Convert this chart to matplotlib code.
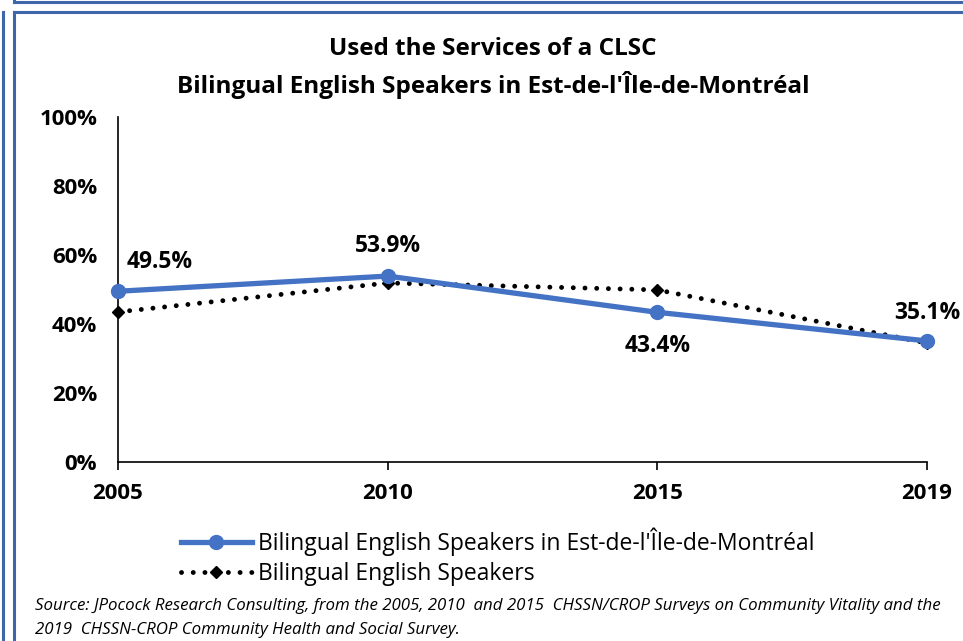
import matplotlib.pyplot as plt
from matplotlib.lines import Line2D

plt.rcParams['font.family'] = ['Liberation Sans Narrow', 'Open Sans', 'DejaVu Sans']

years = ['2005', '2010', '2015', '2019']
est_montreal = [0.495, 0.539, 0.434, 0.351]
bilingual_all = [0.435, 0.519, 0.499, 0.345]
value_labels = ['49.5%', '53.9%', '43.4%', '35.1%']
yticks = [0, 0.2, 0.4, 0.6, 0.8, 1.0]
ytick_labels = ['0%', '20%', '40%', '60%', '80%', '100%']

blue = '#4472C4'

fig = plt.figure(figsize=(9.63, 6.41), dpi=100)
ax = fig.add_axes([0.1225, 0.2793, 0.840, 0.538])

x = list(range(len(years)))
ax.plot(x, bilingual_all, color='black', lw=3.5, linestyle=(0, (0.01, 2.4)),
        dash_capstyle='round', marker='D', markersize=6, markerfacecolor='black',
        markeredgecolor='black', label='Bilingual English Speakers', zorder=2)
ax.plot(x, est_montreal, color=blue, lw=3.8, marker='o', markersize=10,
        label="Bilingual English Speakers in Est-de-l'Île-de-Montréal", zorder=3)

# data labels (offsets in points)
offsets = [(30, 21), (0, 22), (0, -24), (0, 20)]
for xi, yi, lab, off in zip(x, est_montreal, value_labels, offsets):
    ax.annotate(lab, (xi, yi), xytext=off, textcoords='offset points',
                ha='center', va='center', fontsize=16.5, fontweight='bold')

ax.set_xlim(0, 3)
ax.set_ylim(0, 1)
ax.set_xticks(x)
ax.set_xticklabels(years, fontsize=16, fontweight='bold')
ax.set_yticks(yticks)
ax.set_yticklabels(ytick_labels, fontsize=16, fontweight='bold')
ax.tick_params(axis='y', length=0, pad=15)
ax.tick_params(axis='x', direction='out', length=6, width=1.2, pad=9)
for s in ['top', 'right']:
    ax.spines[s].set_visible(False)
ax.spines['left'].set_linewidth(1.2)
ax.spines['bottom'].set_linewidth(1.2)
for ln in ax.lines:
    ln.set_clip_on(False)

fig.text(0.512, 0.924, 'Used the Services of a CLSC', ha='center', va='center',
         fontsize=17.5, fontweight='bold')
fig.text(0.512, 0.868, "Bilingual English Speakers in Est-de-l'Île-de-Montréal",
         ha='center', va='center', fontsize=17.5, fontweight='bold')

handles, labels = ax.get_legend_handles_labels()
fig.legend(handles[::-1], labels[::-1], loc='center left',
           bbox_to_anchor=(0.178, 0.131), frameon=False, fontsize=16.5,
           handlelength=3.1, handletextpad=0.3, labelspacing=0.25, borderaxespad=0)

fig.text(0.036, 0.055, 'Source: JPocock Research Consulting, from the 2005, 2010  and 2015  '
         'CHSSN/CROP Surveys on Community Vitality and the', fontsize=12.2,
         style='italic', ha='left', va='center')
fig.text(0.036, 0.017, '2019  CHSSN-CROP Community Health and Social Survey.',
         fontsize=12.2, style='italic', ha='left', va='center')

# frame lines around the chart
fc = '#3F65AB'
fig.add_artist(Line2D([0.003, 0.003], [0, 0.981], color=fc, lw=2.2, transform=fig.transFigure))
fig.add_artist(Line2D([0.0145, 0.0145], [0, 0.981], color=fc, lw=2.2, transform=fig.transFigure))
fig.add_artist(Line2D([0.0145, 1], [0.981, 0.981], color=fc, lw=2.2, transform=fig.transFigure))
fig.add_artist(Line2D([0.0145, 1], [0.997, 0.997], color=fc, lw=2.2, transform=fig.transFigure))
fig.add_artist(Line2D([0.0145, 0.0145], [0.997, 1], color=fc, lw=2.2, transform=fig.transFigure))

fig.savefig('out.png', dpi=100)
